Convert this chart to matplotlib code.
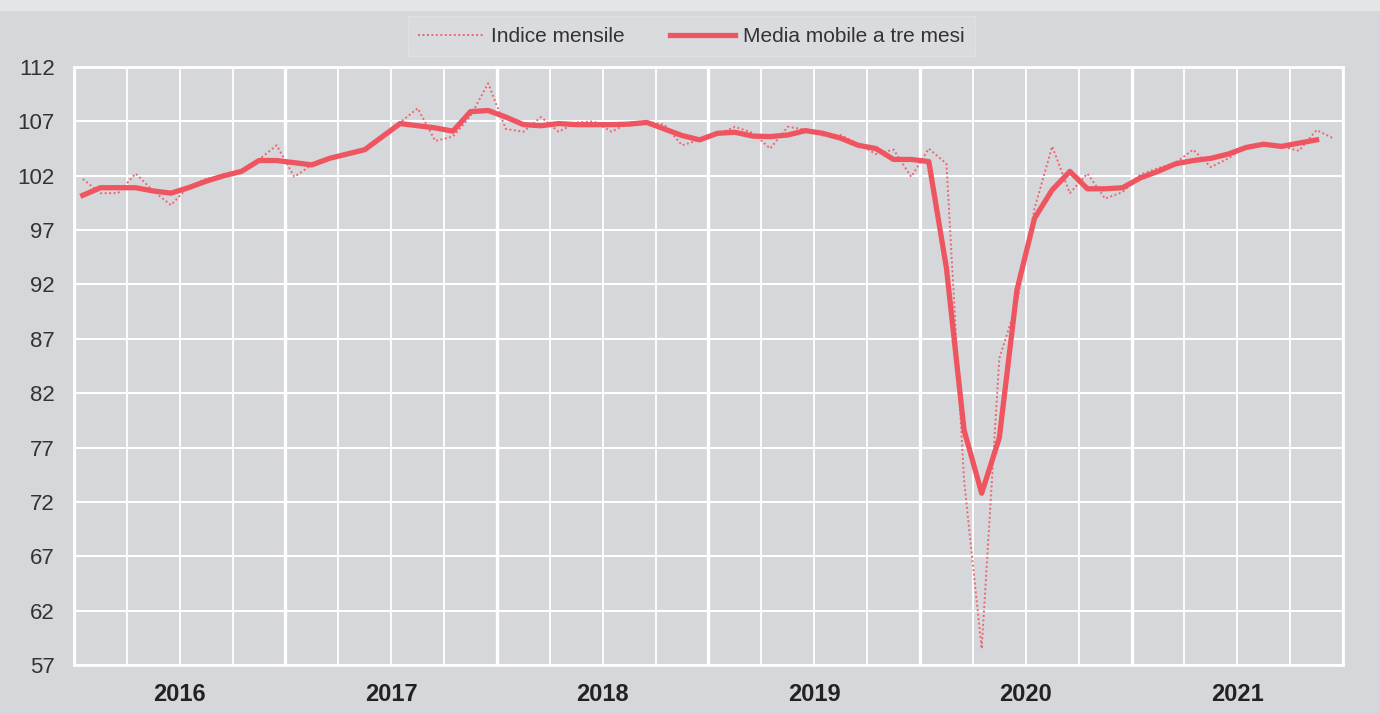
import numpy as np
import pandas as pd
import matplotlib
matplotlib.use("Agg")
import matplotlib.pyplot as plt
from matplotlib.patches import Rectangle

# dati (gen 2016 - dic 2021)
mesi = pd.date_range("2016-01-01", "2021-12-01", freq="MS")

indice_mensile = [
    101.7, 100.4, 100.4, 102.2, 100.6, 99.3, 101.0, 101.7, 102.0, 102.4, 103.5, 104.8,
    101.9, 103.0, 103.6, 104.0, 104.4, 105.6, 106.9, 108.2, 105.2, 105.6, 107.5, 110.5,
    106.3, 106.05, 107.4, 106.05, 106.9, 107.0, 106.05, 106.9, 107.0, 106.7, 104.8, 105.3,
    105.8, 106.5, 105.95, 104.5, 106.5, 106.25, 105.7, 105.75, 104.9, 104.0, 104.4, 101.9,
    104.5, 103.1, 74.0, 58.5, 85.2, 90.3, 99.0, 104.7, 100.4, 102.2, 99.9, 100.5,
    102.1, 102.7, 103.2, 104.4, 102.8, 103.6, 104.7, 105.0, 104.7, 104.3, 106.2, 105.4,
]

media_mobile = [
    100.2, 100.9, 100.9, 100.9, 100.6, 100.4, 100.9, 101.5, 102.0, 102.4, 103.4, 103.4,
    103.2, 103.0, 103.6, 104.0, 104.4, 105.6, 106.8, 106.6, 106.4, 106.1, 107.9, 108.0,
    107.4, 106.7, 106.6, 106.8, 106.7, 106.7, 106.7, 106.75, 106.9, 106.3, 105.7, 105.3,
    105.9, 106.0, 105.65, 105.6, 105.75, 106.15, 105.9, 105.45, 104.8, 104.5, 103.5, 103.5,
    103.3, 93.5, 78.6, 72.8, 77.9, 91.5, 98.1, 100.7, 102.4, 100.8, 100.8, 100.9,
    101.8, 102.4, 103.1, 103.4, 103.6, 104.0, 104.6, 104.9, 104.7, 105.0, 105.3,
]

anni = ["2016", "2017", "2018", "2019", "2020", "2021"]
valori_y = list(range(57, 113, 5))

sfondo = "#d6d7da"
rosso = "#ef5560"

plt.rcParams['font.family'] = ['Liberation Sans', 'DejaVu Sans']

fig = plt.figure(figsize=(13.8, 7.13), dpi=100, facecolor=sfondo)
# striscia chiara in alto
fig.patches.append(Rectangle((0, 0.985), 1, 0.015, transform=fig.transFigure,
                             facecolor="#e4e5e7", edgecolor="none"))

ax = fig.add_axes([0.0536, 0.0673, 0.9196, 0.8387])
ax.set_facecolor(sfondo)

x = np.arange(len(mesi))
ax.plot(x, indice_mensile, color="#ec6670", lw=1.4, ls=(0, (1, 1.3)), label="Indice mensile")
ax.plot(x[:len(media_mobile)], media_mobile, color=rosso, lw=3.8,
        solid_joinstyle="round", label="Media mobile a tre mesi")

ax.set_xlim(-0.5, len(mesi) - 0.5)
ax.set_ylim(57, 112)
ax.set_yticks(valori_y)

# griglia: trimestri sottili, anni più spessi
for q in np.arange(-0.5, len(mesi), 3):
    lw = 2.4 if (q + 0.5) % 12 == 0 else 1.3
    ax.axvline(q, color="white", lw=lw, zorder=0.5)
for v in valori_y:
    ax.axhline(v, color="white", lw=1.5, zorder=0.5)

ax.set_xticks([])
ax.tick_params(axis="y", length=0, pad=14, labelsize=16, labelcolor="#333333")
for s in ax.spines.values():
    s.set_color("white")
    s.set_linewidth(2)

for i, anno in enumerate(anni):
    ax.text(12 * i + 5.5, -0.05, anno, transform=ax.get_xaxis_transform(),
            ha="center", va="center", fontsize=17, fontweight="bold", color="#222222")

leg = fig.legend(loc="center", bbox_to_anchor=(0.501, 0.949), ncol=2, fontsize=15,
                 frameon=True, fancybox=False, handlelength=3.1, handletextpad=0.4,
                 columnspacing=2.2, borderpad=0.5, borderaxespad=0)
leg.get_frame().set_facecolor("#dcdde0")
leg.get_frame().set_edgecolor("#e2e3e5")
for t in leg.get_texts():
    t.set_color("#333333")

plt.savefig("out.png", dpi=100, facecolor=sfondo)
